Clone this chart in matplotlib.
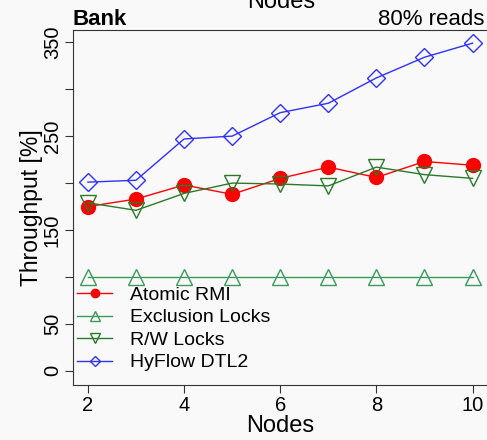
import matplotlib
matplotlib.use('Agg')
import matplotlib.pyplot as plt

plt.rcParams['font.family'] = ['Liberation Sans', 'DejaVu Sans']

nodes = [2, 3, 4, 5, 6, 7, 8, 9, 10]
atomic_rmi = [175, 183, 198, 188, 205, 217, 206, 223, 219]
exclusion_locks = [100, 100, 100, 100, 100, 100, 100, 100, 100]
rw_locks = [179, 171, 189, 200, 199, 197, 217, 209, 205]
hyflow_dtl2 = [201, 203, 247, 250, 275, 285, 312, 334, 349]

y_ticks = [0, 50, 100, 150, 200, 250, 300, 350]
y_labels = ['0', '50', '', '150', '', '250', '', '350']

W, H = 487, 440
fig = plt.figure(figsize=(W / 100, H / 100), dpi=100)
fig.patch.set_facecolor('#f9f9f9')
ax = fig.add_axes([73 / W, 1 - 385 / H, 414 / W, 355 / H])
ax.set_facecolor('#f9f9f9')

ax.plot(nodes, atomic_rmi, color='#ff0000', lw=1, marker='o', ms=10,
        mfc='#ff0000', mec='#ff0000', label='Atomic RMI')
ax.plot(nodes, exclusion_locks, color='#3a9a5a', lw=1, marker='^', ms=11,
        mfc='none', mec='#3a9a5a', label='Exclusion Locks')
ax.plot(nodes, rw_locks, color='#2a7a2a', lw=1, marker='v', ms=11,
        mfc='none', mec='#2a7a2a', label='R/W Locks')
ax.plot(nodes, hyflow_dtl2, color='#3030ff', lw=1, marker='D', ms=9,
        mfc='none', mec='#3030ff', label='HyFlow DTL2')

ax.set_xlim(1.69, 10.3)
ax.set_ylim(-15, 363)
ax.set_xticks([2, 4, 6, 8, 10])
ax.set_yticks(y_ticks)
ax.set_yticklabels(y_labels, rotation=90, va='center')
ax.tick_params(labelsize=14.5, length=6, direction='out', color='#333333')
ax.tick_params(axis='x', pad=2)
ax.tick_params(axis='y', pad=2)
ax.spines['right'].set_visible(False)
for s in ['left', 'bottom', 'top']:
    ax.spines[s].set_color('#333333')

ax.set_xlabel('Nodes', fontsize=17, labelpad=0)
ax.set_ylabel('Throughput [%]', fontsize=16.5, labelpad=0)

fig.text(73 / W, 1 - 25 / H, 'Bank', fontsize=16, fontweight='bold', va='baseline')
fig.text(484 / W, 1 - 25 / H, '80% reads', fontsize=16, ha='right', va='baseline')
fig.text(281 / W, 1 - 8 / H, 'Nodes', fontsize=17, ha='center', va='baseline')

leg = ax.legend(loc='upper left', bbox_to_anchor=(0.01, 0.278), frameon=False,
                fontsize=14, handlelength=1.8, handletextpad=0.9,
                labelspacing=0.25, borderaxespad=0, borderpad=0,
                markerscale=0.6)

fig.savefig('out.png', dpi=100, facecolor=fig.get_facecolor())
